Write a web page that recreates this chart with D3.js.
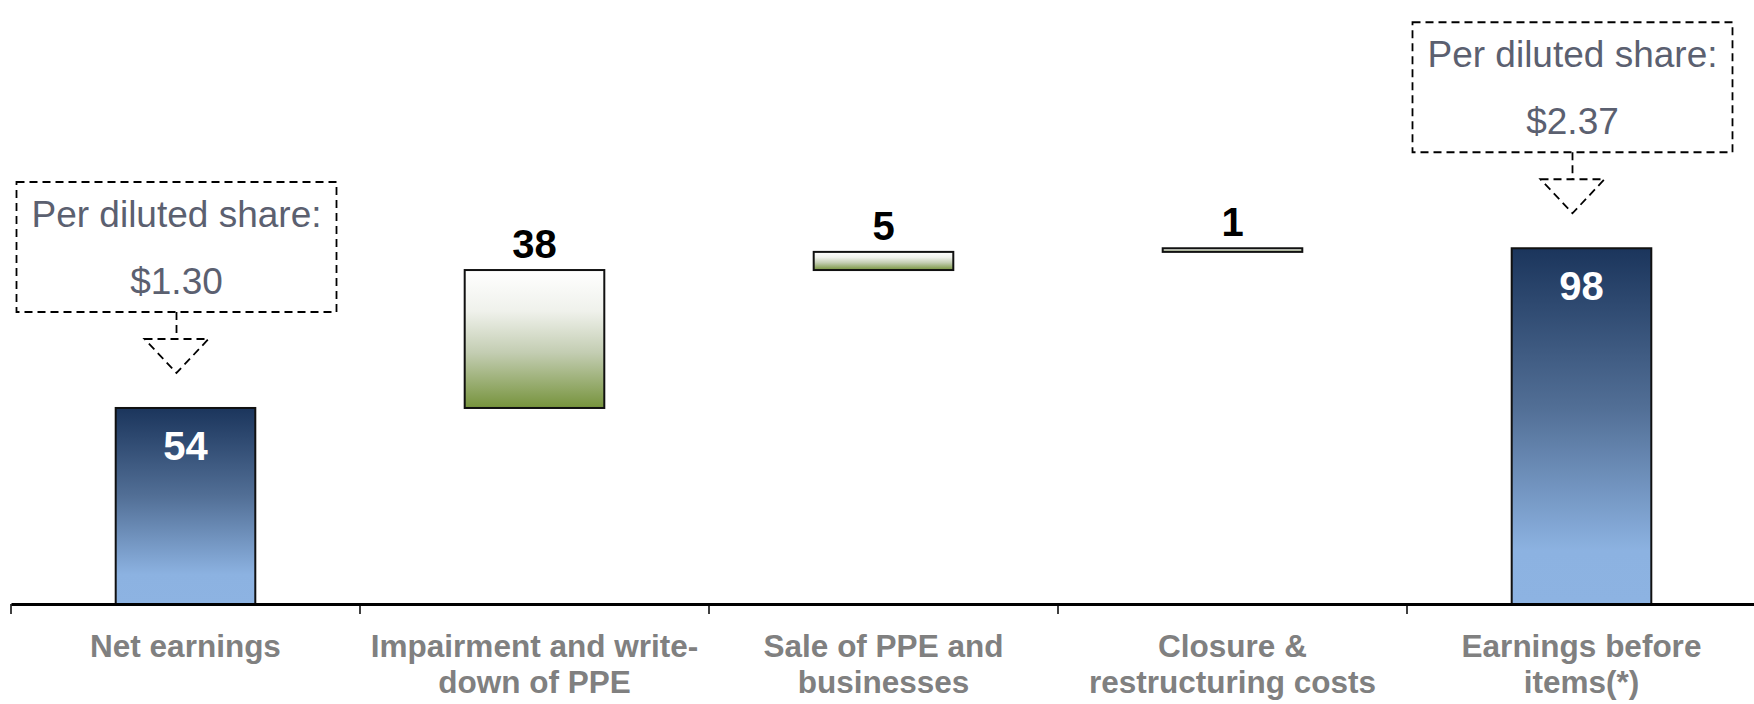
<!DOCTYPE html>
<html>
<head>
<meta charset="utf-8">
<script src="https://cdn.jsdelivr.net/npm/d3@7"></script>
<style>
  html, body { margin: 0; padding: 0; background: #ffffff; }
  svg { display: block; font-family: "Liberation Sans", Arial, sans-serif; }
</style>
</head>
<body>
<svg id="chart" width="1754" height="704"></svg>
<script>
// Earnings bridge: net earnings plus special items gives earnings before items
const categories = [
  "Net earnings",
  "Impairment and write-down of PPE",
  "Sale of PPE and businesses",
  "Closure & restructuring costs",
  "Earnings before items(*)"
];
const categoryLines = [
  ["Net earnings"],
  ["Impairment and write-", "down of PPE"],
  ["Sale of PPE and", "businesses"],
  ["Closure &", "restructuring costs"],
  ["Earnings before", "items(*)"]
];
const values = [54, 38, 5, 1, 98];
const barKinds = ["total", "step", "step", "step", "total"];

const perShareCategories = ["Net earnings", "Earnings before items(*)"];
const perShareValues = [1.30, 2.37];
const perShareCaption = "Per diluted share:";

// ---- running totals for the waterfall ----
let running = 0;
const bars = categories.map((c, i) => {
  let start, end;
  if (barKinds[i] === "total") { start = 0; end = values[i]; running = values[i]; }
  else { start = running; end = running + values[i]; running = end; }
  return { category: c, value: values[i], kind: barKinds[i], start, end };
});

const svg = d3.select("#chart");

const x = d3.scaleBand()
  .domain(categories)
  .range([11, 1756])
  .paddingInner(0.6)
  .paddingOuter(0.3);
const y = d3.scaleLinear().domain([0, 100]).range([604, 241]);

// ---- gradients ----
const defs = svg.append("defs");
const blue = defs.append("linearGradient").attr("id", "gradTotal")
  .attr("x1", 0).attr("y1", 0).attr("x2", 0).attr("y2", 1);
blue.append("stop").attr("offset", "0%").attr("stop-color", "#1b355c");
blue.append("stop").attr("offset", "45%").attr("stop-color", "#526f96");
blue.append("stop").attr("offset", "85%").attr("stop-color", "#8cb2e1");
blue.append("stop").attr("offset", "100%").attr("stop-color", "#8db3e2");

const green = defs.append("linearGradient").attr("id", "gradStep")
  .attr("x1", 0).attr("y1", 0).attr("x2", 0).attr("y2", 1);
green.append("stop").attr("offset", "0%").attr("stop-color", "#ffffff");
green.append("stop").attr("offset", "30%").attr("stop-color", "#eff1eb");
green.append("stop").attr("offset", "60%").attr("stop-color", "#c3cdb2");
green.append("stop").attr("offset", "100%").attr("stop-color", "#76933c");

// ---- bars ----
svg.append("g").selectAll("rect")
  .data(bars)
  .join("rect")
  .attr("x", d => x(d.category))
  .attr("y", d => y(d.end))
  .attr("width", x.bandwidth())
  .attr("height", d => y(d.start) - y(d.end))
  .attr("fill", d => d.kind === "total" ? "url(#gradTotal)" : "url(#gradStep)")
  .attr("stroke", "#111111")
  .attr("stroke-width", 2);

// ---- value labels ----
svg.append("g").selectAll("text")
  .data(bars)
  .join("text")
  .attr("x", d => x(d.category) + x.bandwidth() / 2)
  .attr("y", d => d.kind === "total" ? y(d.end) + 52 : y(d.end) - 12)
  .attr("text-anchor", "middle")
  .attr("font-size", 40)
  .attr("font-weight", "bold")
  .attr("fill", d => d.kind === "total" ? "#ffffff" : "#000000")
  .text(d => d.value);

// ---- category axis ----
const axis = svg.append("g").attr("transform", `translate(0,${y(0)})`)
  .call(d3.axisBottom(x).tickSize(0).tickSizeOuter(0).tickFormat(""));
axis.select(".domain").attr("stroke", "#000").attr("stroke-width", 3);

const boundaries = categories.map(c => x(c) - x.step() * x.paddingInner() / 2);
svg.append("g").selectAll("line")
  .data(boundaries)
  .join("line")
  .attr("x1", d => d).attr("x2", d => d)
  .attr("y1", y(0)).attr("y2", y(0) + 10)
  .attr("stroke", "#000").attr("stroke-width", 1.5);

const labels = svg.append("g").selectAll("text")
  .data(categories)
  .join("text")
  .attr("text-anchor", "middle")
  .attr("font-size", 31.5)
  .attr("font-weight", "bold")
  .attr("fill", "#808080");
labels.each(function (c, i) {
  const cx = x(c) + x.bandwidth() / 2;
  d3.select(this).selectAll("tspan")
    .data(categoryLines[i])
    .join("tspan")
    .attr("x", cx)
    .attr("y", (d, j) => 657 + j * 36)
    .text(d => d);
});

// ---- per-share callouts ----
const fmtShare = d3.format("$.2f");
const callouts = svg.append("g").selectAll("g")
  .data(perShareCategories.map((c, i) => ({ category: c, share: perShareValues[i], bar: bars[categories.indexOf(c)] })))
  .join("g");

const dash = "8,5";
callouts.each(function (d) {
  const g = d3.select(this);
  const cx = x(d.category) + x.bandwidth() / 2 - 9;
  const boxBottom = y(d.bar.end) - 96;
  const boxTop = boxBottom - 130;
  g.append("rect")
    .attr("x", cx - 160).attr("y", boxTop)
    .attr("width", 320).attr("height", 130)
    .attr("fill", "none").attr("stroke", "#000")
    .attr("stroke-width", 1.8).attr("stroke-dasharray", dash);
  g.append("text")
    .attr("x", cx).attr("y", boxTop + 45)
    .attr("text-anchor", "middle").attr("font-size", 37)
    .attr("fill", "#5b6070").text(perShareCaption);
  g.append("text")
    .attr("x", cx).attr("y", boxTop + 112)
    .attr("text-anchor", "middle").attr("font-size", 37)
    .attr("fill", "#5b6070").text(fmtShare(d.share));
  g.append("line")
    .attr("x1", cx).attr("x2", cx)
    .attr("y1", boxBottom).attr("y2", boxBottom + 27)
    .attr("stroke", "#000").attr("stroke-width", 1.8).attr("stroke-dasharray", dash);
  g.append("path")
    .attr("d", `M${cx - 32},${boxBottom + 27}L${cx + 32},${boxBottom + 27}L${cx},${boxBottom + 61}Z`)
    .attr("fill", "none").attr("stroke", "#000")
    .attr("stroke-width", 1.8).attr("stroke-dasharray", dash);
});
</script>
</body>
</html>
